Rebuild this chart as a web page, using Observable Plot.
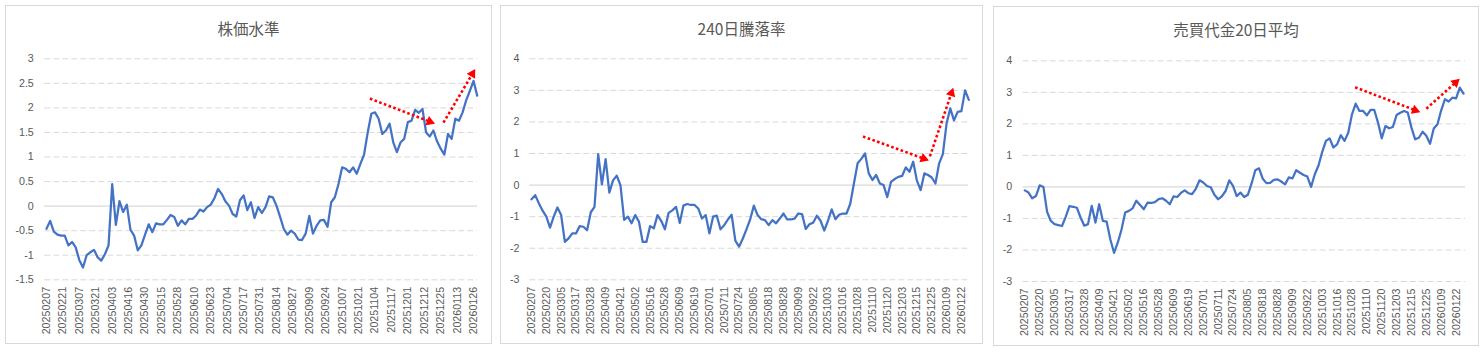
<!DOCTYPE html>
<html><head><meta charset="utf-8">
<script src="https://cdn.jsdelivr.net/npm/d3@7"></script>
<script src="https://cdn.jsdelivr.net/npm/@observablehq/plot@0.6"></script>
<style>
body{margin:0;background:#fff;}
#wrap{position:relative;width:1484px;height:352px;background:#fff;overflow:hidden;}
.panel{position:absolute;border:1px solid #d9d9d9;box-sizing:border-box;background:#fff;}
.title{position:absolute;transform:translate(-50%,-50%);font-family:"Noto Sans CJK JP";font-size:15.5px;color:#595959;white-space:nowrap;line-height:1;}
.chart{position:absolute;}
</style></head><body><div id="wrap"></div>
<script>
// Trading-day index step between the values
const STEP = 2;
const LAST = 236;

// 株価水準
const stockLevel = [
-0.46,-0.30,-0.52,-0.58,-0.60,-0.60,-0.80,-0.73,-0.84,-1.10,
-1.25,-1.00,-0.94,-0.89,-1.04,-1.11,-0.98,-0.80,0.45,-0.38,
0.10,-0.12,0.03,-0.48,-0.60,-0.90,-0.80,-0.58,-0.37,-0.53,
-0.35,-0.37,-0.37,-0.28,-0.18,-0.22,-0.40,-0.29,-0.37,-0.26,
-0.26,-0.19,-0.07,-0.11,-0.02,0.03,0.16,0.35,0.25,0.10,
0.01,-0.16,-0.21,0.12,0.22,-0.08,0.08,-0.24,-0.02,-0.14,
-0.02,0.20,0.18,0.01,-0.22,-0.46,-0.58,-0.50,-0.56,-0.68,
-0.69,-0.56,-0.20,-0.56,-0.40,-0.29,-0.28,-0.42,0.08,0.18,
0.45,0.79,0.76,0.69,0.79,0.66,0.86,1.05,1.50,1.88,
1.91,1.78,1.47,1.54,1.68,1.30,1.10,1.30,1.37,1.71,
1.74,1.96,1.90,1.98,1.50,1.42,1.54,1.32,1.17,1.05,
1.47,1.37,1.78,1.74,1.91,2.16,2.35,2.55,2.25];

// 240日騰落率
const advDecline = [
-0.45,-0.32,-0.58,-0.81,-1.00,-1.35,-1.00,-0.71,-0.95,-1.80,
-1.69,-1.53,-1.53,-1.30,-1.32,-1.43,-0.86,-0.69,0.98,0.02,
0.82,-0.24,0.15,0.30,0.00,-1.10,-1.00,-1.21,-0.95,-1.16,
-1.80,-1.80,-1.30,-1.37,-0.95,-1.13,-1.40,-0.88,-0.80,-0.69,
-1.20,-0.65,-0.60,-0.63,-0.63,-0.74,-1.06,-0.95,-1.53,-1.00,
-0.97,-1.40,-1.27,-1.09,-0.94,-1.76,-1.95,-1.70,-1.40,-1.09,
-0.65,-0.95,-1.08,-1.11,-1.27,-1.11,-1.21,-1.06,-0.90,-1.09,
-1.09,-1.06,-0.90,-0.92,-1.39,-1.24,-1.19,-0.97,-1.13,-1.44,
-1.13,-0.77,-1.08,-0.94,-0.90,-0.90,-0.60,0.05,0.69,0.83,
1.00,0.37,0.16,0.32,0.05,0.00,-0.38,0.10,0.19,0.26,
0.29,0.56,0.42,0.74,0.14,-0.16,0.37,0.32,0.24,0.05,
0.69,0.98,1.95,2.43,2.05,2.32,2.34,3.00,2.70];

// 売買代金20日平均
const turnover20 = [
-0.11,-0.18,-0.36,-0.29,0.05,0.00,-0.79,-1.08,-1.18,-1.21,
-1.24,-0.95,-0.61,-0.63,-0.66,-0.97,-1.23,-1.18,-0.60,-1.13,
-0.55,-1.08,-1.10,-1.66,-2.09,-1.77,-1.36,-0.81,-0.76,-0.68,
-0.44,-0.57,-0.71,-0.50,-0.51,-0.48,-0.39,-0.36,-0.44,-0.55,
-0.30,-0.32,-0.19,-0.11,-0.20,-0.23,-0.06,0.21,0.14,0.03,
-0.01,-0.25,-0.39,-0.30,-0.13,0.21,0.03,-0.29,-0.18,-0.32,
-0.25,0.11,0.53,0.59,0.26,0.12,0.13,0.22,0.24,0.17,
0.08,0.30,0.27,0.53,0.45,0.38,0.33,0.00,0.40,0.68,
1.11,1.46,1.54,1.25,1.35,1.64,1.46,1.72,2.30,2.64,
2.41,2.41,2.27,2.44,2.44,2.04,1.54,1.93,1.86,1.90,
2.28,2.35,2.41,2.36,1.88,1.51,1.56,1.75,1.62,1.37,
1.85,1.99,2.43,2.78,2.71,2.83,2.81,3.15,2.96];

// x tick labels (every 9 trading days in panel 1, every 8 in panels 2 and 3)
const dateLabels9 = ["20250207","20250221","20250307","20250321","20250403","20250416","20250430","20250515","20250528","20250610","20250623","20250704","20250717","20250731","20250814","20250827","20250909","20250924","20251007","20251021","20251104","20251117","20251201","20251212","20251225","20260113","20260126"];
const dateLabels8 = ["20250207","20250220","20250305","20250317","20250328","20250409","20250421","20250502","20250516","20250528","20250609","20250619","20250701","20250711","20250724","20250805","20250818","20250828","20250909","20250922","20251003","20251016","20251028","20251110","20251120","20251203","20251215","20251225","20260109","20260122"];

// y tick values
const yTicksA = [-1.5,-1,-0.5,0,0.5,1,1.5,2,2.5,3];
const yTicksB = [-3,-2,-1,0,1,2,3,4];

// red dotted annotation arrows: [x start, y start, x end, y end] in (day index, value)
const arrowsA = [[177.2,2.19,212.9,1.68],[217.5,1.70,234.9,2.79]];
const arrowsB = [[178.9,1.54,214.5,0.78],[215.0,0.91,227.6,3.08]];
const arrowsC = [[177.7,3.16,212.8,2.37],[216.0,2.48,234.0,3.43]];

const wrap = document.getElementById("wrap");

function drawPanel(cfg){
  const box = document.createElement("div");
  box.className = "panel";
  Object.assign(box.style,{left:cfg.box[0]+"px",top:cfg.box[1]+"px",width:cfg.box[2]+"px",height:cfg.box[3]+"px"});
  wrap.appendChild(box);

  const t = document.createElement("div");
  t.className = "title";
  t.textContent = cfg.title;
  t.style.left = (cfg.box[0] + cfg.box[2]/2) + "px";
  t.style.top = cfg.titleY + "px";
  wrap.appendChild(t);

  const W = cfg.box[2], H = 300;
  const [mt, mr, mb, ml] = cfg.margins;
  const xr = cfg.xRange;
  const yd = [cfg.yTicks[0], cfg.yTicks[cfg.yTicks.length-1]];
  const data = cfg.values.map((v,k)=>({i:k*STEP, v}));
  const tickPos = cfg.labels.map((d,k)=>k*cfg.labelStep);
  const labelMap = new Map(tickPos.map((p,k)=>[p,cfg.labels[k]]));

  const kx = (xr[1]-xr[0])/LAST;
  const ky = (H-mt-mb)/(yd[1]-yd[0]);
  const r = 3.6;
  const tipDist = 2*Math.sqrt(Math.PI*r*r/(3*Math.sqrt(3)));

  const arrowMarks = [];
  for (const a of cfg.arrows){
    const sx = (a[2]-a[0])*kx, sy = -(a[3]-a[1])*ky;
    const len = Math.hypot(sx, sy);
    const ux = sx/len, uy = sy/len;
    const ang = Math.atan2(ux, -uy)*180/Math.PI;
    const ex = a[2] - ux*tipDist/kx, ey = a[3] + uy*tipDist/ky;
    arrowMarks.push(Plot.link([a], {x1:d=>d[0], y1:d=>d[1], x2:()=>ex, y2:()=>ey,
      stroke:"#ff0000", strokeWidth:2.6, strokeDasharray:"2.6,2.4"}));
    arrowMarks.push(Plot.dot([a], {x:d=>d[2], y:d=>d[3], symbol:"triangle", r:r,
      fill:"#ff0000", stroke:"none", rotate:ang, dx:-ux*tipDist, dy:-uy*tipDist}));
  }

  const svg = Plot.plot({
    width:W, height:H,
    marginTop:mt, marginRight:mr, marginBottom:mb, marginLeft:ml,
    x:{domain:[0,LAST], range:xr, label:null},
    y:{domain:yd, label:null},
    style:{fontFamily:"'Liberation Sans', Arial, sans-serif", fontSize:"10.7px", color:"#595959", background:"transparent", overflow:"visible"},
    marks:[
      Plot.ruleY(cfg.yTicks.filter(d=>d!==0), {stroke:"#d9d9d9", strokeWidth:1, strokeDasharray:"6,3"}),
      Plot.ruleY([0], {stroke:"#d9d9d9", strokeWidth:1.3}),
      Plot.axisY(cfg.yTicks, {tickSize:0, tickPadding:cfg.yPad, tickFormat:d=>String(d), label:null, fill:"#595959"}),
      Plot.axisX(tickPos, {tickSize:0, tickPadding:7, tickRotate:-90, tickFormat:d=>labelMap.get(d), label:null, fill:"#595959"}),
      Plot.line(data, {x:"i", y:"v", stroke:"#4472c4", strokeWidth:2.25, strokeLinejoin:"round"}),
      ...arrowMarks
    ]
  });
  svg.classList.add("chart");
  svg.style.left = cfg.box[0] + "px";
  svg.style.top = "40px";
  wrap.appendChild(svg);
}

drawPanel({title:"株価水準", box:[5,5,487,339], titleY:28.5,
  margins:[18.3,15,60.7,39.3], xRange:[41,471.7], yTicks:yTicksA, yPad:11,
  values:stockLevel, labels:dateLabels9, labelStep:9, arrows:arrowsA});
drawPanel({title:"240日騰落率", box:[500,5,483,339], titleY:28.5,
  margins:[18.3,14.7,60.7,29.3], xRange:[31,468.3], yTicks:yTicksB, yPad:10.3,
  values:advDecline, labels:dateLabels8, labelStep:8, arrows:arrowsB});
drawPanel({title:"売買代金20日平均", box:[993,6,486,340], titleY:30,
  margins:[20.3,14,59,29.7], xRange:[31.3,470], yTicks:yTicksB, yPad:11,
  values:turnover20, labels:dateLabels8, labelStep:8, arrows:arrowsC});
</script>
</body></html>
